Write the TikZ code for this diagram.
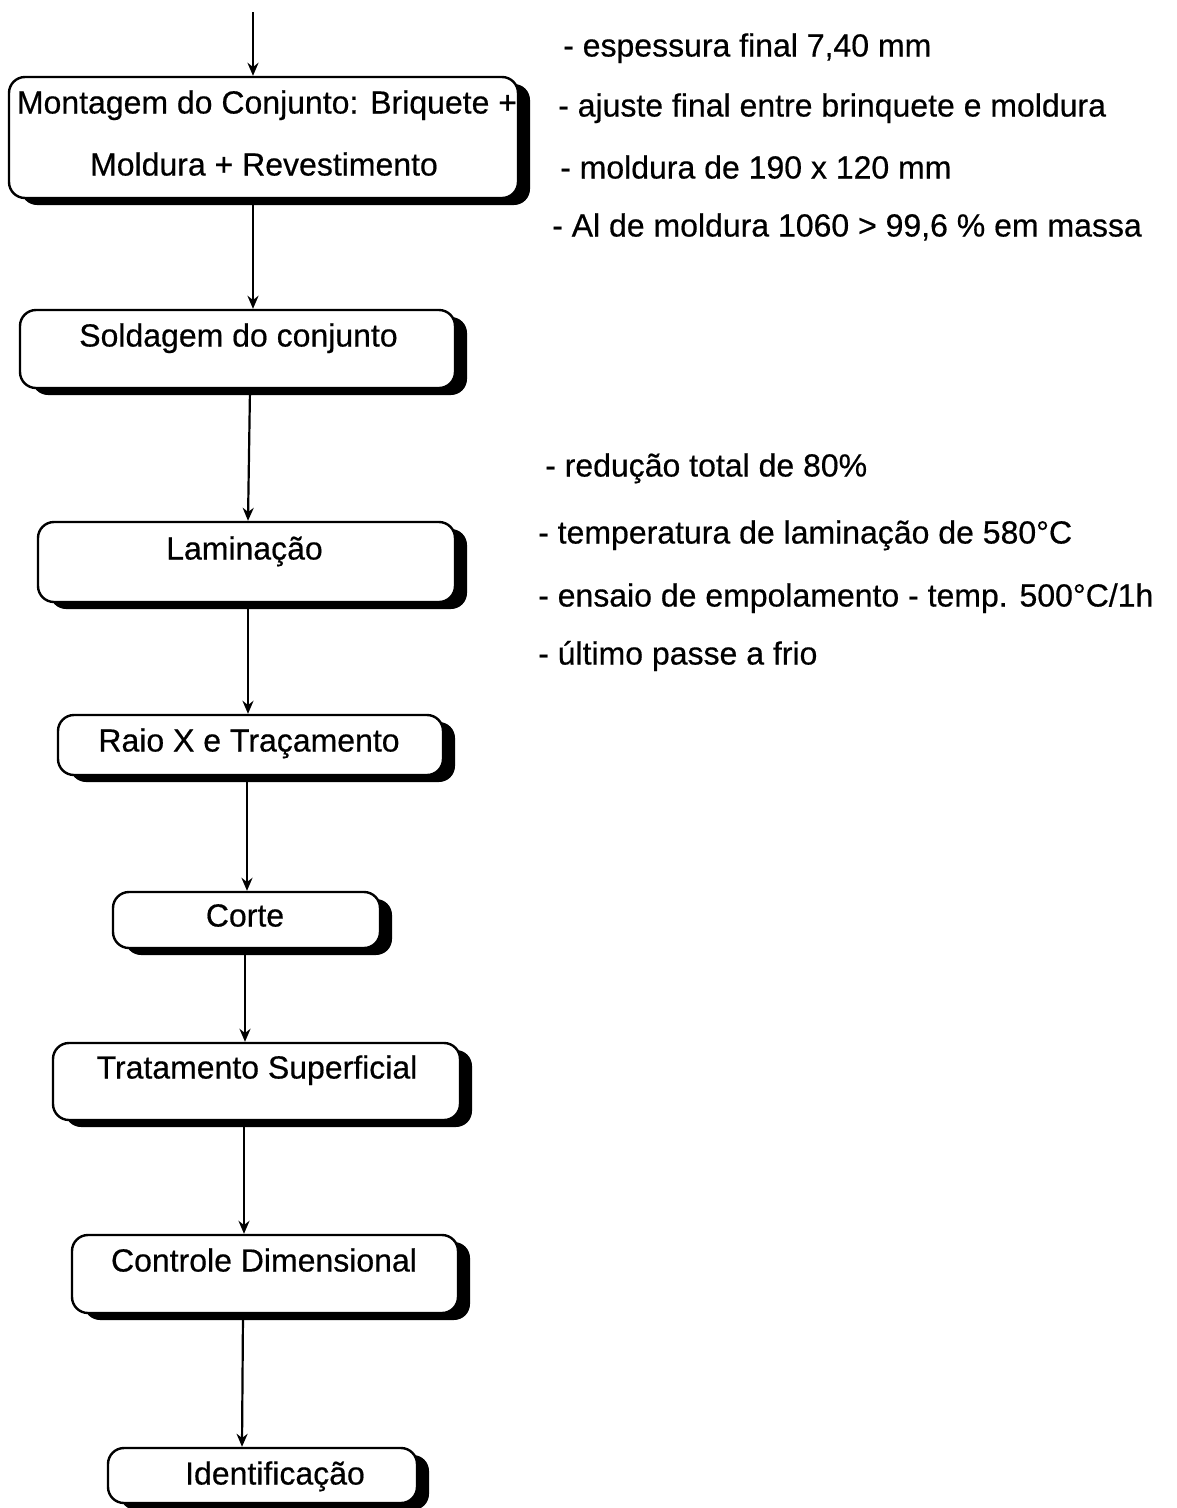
\documentclass[tikz,border=0pt]{standalone}
\usepackage{fontspec}
\setmainfont{Liberation Sans}[BoldFont=Liberation Sans, BoldFeatures={FakeBold=0.5}]
\usetikzlibrary{arrows.meta,shadows}
\begin{document}
\begin{tikzpicture}[x=1pt,y=-1pt,
  proc/.style={draw=black, line width=2.4pt, fill=white, rounded corners=16pt,
    inner sep=0pt, rectangle,
    drop shadow={shadow xshift=12pt, shadow yshift=-7pt, fill=black, opacity=1}},
  lbl/.style={inner sep=0pt, font=\fontsize{32}{38}\selectfont\bfseries, anchor=base},
  note/.style={inner sep=0pt, font=\fontsize{32}{38}\selectfont\bfseries, anchor=base west},
  flow/.style={line width=2.2pt, -{Stealth[length=13pt,width=11pt]}}]
\useasboundingbox (0,0) rectangle (1177,1508);

% process boxes
\node[proc, minimum width=509pt, minimum height=121pt] (mont) at (263.5,137.5) {};
\node[proc, minimum width=435pt, minimum height=78pt]  (sold) at (237.5,349) {};
\node[proc, minimum width=417pt, minimum height=80pt]  (lam)  at (246.5,562) {};
\node[proc, minimum width=385pt, minimum height=60pt]  (raio) at (250.5,745) {};
\node[proc, minimum width=267pt, minimum height=56pt]  (corte) at (246.5,920) {};
\node[proc, minimum width=407pt, minimum height=77pt]  (trat) at (256.5,1081.5) {};
\node[proc, minimum width=386pt, minimum height=78pt]  (ctrl) at (265,1274) {};
\node[proc, minimum width=309pt, minimum height=55pt]  (ident) at (262.5,1475.5) {};

% box captions
\node[lbl] (mont1) at (267,113.5) {Montagem do Conjunto: Briquete +};
\node[lbl] (mont2) at (264,175.5) {Moldura + Revestimento};
\node[lbl] (soldt) at (238.5,346.5) {Soldagem do conjunto};
\node[lbl] (lamt)  at (244.5,559.5) {Laminação};
\node[lbl] (raiot) at (249,751.5) {Raio X e Traçamento};
\node[lbl] (cortet) at (245,926.5) {Corte};
\node[lbl] (tratt) at (257,1078.5) {Tratamento Superficial};
\node[lbl] (ctrlt) at (264,1271.5) {Controle Dimensional};
\node[lbl] (identt) at (275,1484.5) {Identificação};

% notes beside the assembly step
\node[note] (a1) at (563,56.5)  {- espessura final 7,40 mm};
\node[note] (a2) at (558,116.5) {- ajuste final entre brinquete e moldura};
\node[note] (a3) at (560,178.5) {- moldura de 190 x 120 mm};
\node[note] (a4) at (552,236.5) {- Al de moldura 1060 > 99,6 \% em massa};

% notes beside the rolling step
\node[note] (b1) at (545,476.5) {- redução total de 80\%};
\node[note] (b2) at (538,543.5) {- temperatura de laminação de 580°C};
\node[note] (b3) at (538,606.5) {- ensaio de empolamento - temp. 500°C/1h};
\node[note] (b4) at (538,664.5) {- último passe a frio};

% flow arrows
\coordinate (start) at (253,12);
\draw[flow] (start) -- (mont.north -| start);
\draw[flow] ([xshift=-10.5pt]mont.south) -- ([xshift=15.5pt]sold.north);
\draw[flow] ([xshift=12.5pt]sold.south) -- ([xshift=1.5pt]lam.north);
\draw[flow] ([xshift=1.5pt]lam.south) -- ([xshift=-2.5pt]raio.north);
\draw[flow] ([xshift=-3.5pt]raio.south) -- ([xshift=0.5pt]corte.north);
\draw[flow] ([xshift=-1.5pt]corte.south) -- ([xshift=-11.5pt]trat.north);
\draw[flow] ([xshift=-12.5pt]trat.south) -- ([xshift=-21pt]ctrl.north);
\draw[flow] ([xshift=-22pt]ctrl.south) -- ([xshift=-20.5pt]ident.north);
\end{tikzpicture}
\end{document}
